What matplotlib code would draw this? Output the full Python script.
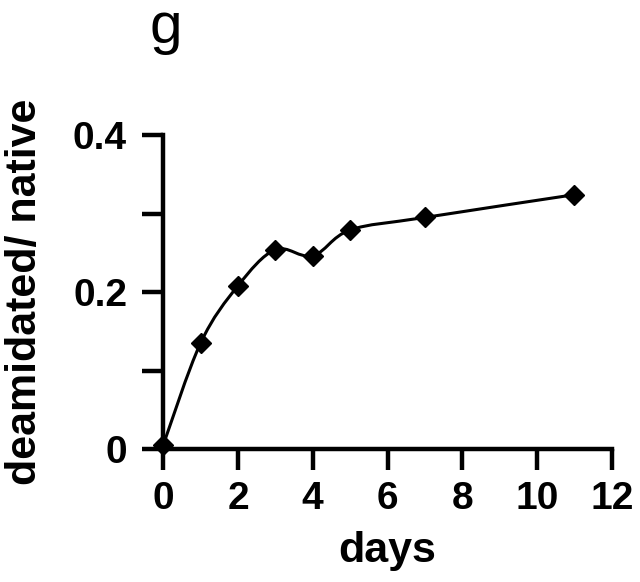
import numpy as np
import matplotlib
matplotlib.use("Agg")
import matplotlib.pyplot as plt
from matplotlib.path import Path
from matplotlib.patches import PathPatch

days = [0, 1, 2, 3, 4, 5, 7, 11]
ratio = [0.005, 0.135, 0.208, 0.254, 0.246, 0.279, 0.295, 0.324]

x_ticks = [0, 2, 4, 6, 8, 10, 12]
y_ticks = [0, 0.1, 0.2, 0.3, 0.4]
y_tick_labels = ["0", "", "0.2", "", "0.4"]

plt.rcParams['font.family'] = ['Liberation Sans', 'DejaVu Sans']


def smooth_path(xs, ys, tension=0.5):
    # Catmull-Rom through the points, drawn as cubic bezier pieces
    xs = np.asarray(xs, float)
    ys = np.asarray(ys, float)
    pts = np.column_stack([xs, ys])
    verts = [pts[0]]
    codes = [Path.MOVETO]
    n = len(pts)
    for i in range(n - 1):
        p0 = pts[i - 1] if i > 0 else pts[i]
        p1 = pts[i]
        p2 = pts[i + 1]
        p3 = pts[i + 2] if i + 2 < n else pts[i + 1]
        c1 = p1 + (p2 - p0) * tension / 3.0
        c2 = p2 - (p3 - p1) * tension / 3.0
        verts += [c1, c2, p2]
        codes += [Path.CURVE4] * 3
    return Path(verts, codes)


fig = plt.figure(figsize=(6.4, 5.82), dpi=100)
ax = fig.add_axes([0.255, 0.2285, 0.701, 0.5395])

ax.add_patch(PathPatch(smooth_path(days, ratio), facecolor='none',
                       edgecolor='black', lw=2.2, clip_on=False))
ax.plot(days, ratio, linestyle='none', marker='D', ms=10, color='black',
        clip_on=False, zorder=3)

ax.set_xlim(0, 12)
ax.set_ylim(0, 0.4)
ax.set_xticks(x_ticks)
ax.set_yticks(y_ticks)
ax.set_yticklabels(y_tick_labels)

for s in ['top', 'right']:
    ax.spines[s].set_visible(False)
for s in ['left', 'bottom']:
    ax.spines[s].set_linewidth(3.2)

ax.tick_params(axis='both', direction='out', length=15, width=3.2,
               labelsize=28)
ax.tick_params(axis='x', pad=8)
ax.tick_params(axis='y', pad=11)
for lab in ax.get_xticklabels() + ax.get_yticklabels():
    lab.set_fontweight('bold')

ax.set_xlabel("days", fontsize=31, fontweight='bold', labelpad=10)
ax.set_ylabel("deamidated/ native", fontsize=31, fontweight='bold', labelpad=20)

fig.text(0.259, 0.926, "g", fontsize=42, ha='center', va='baseline')

fig.savefig("out.png", dpi=100)
